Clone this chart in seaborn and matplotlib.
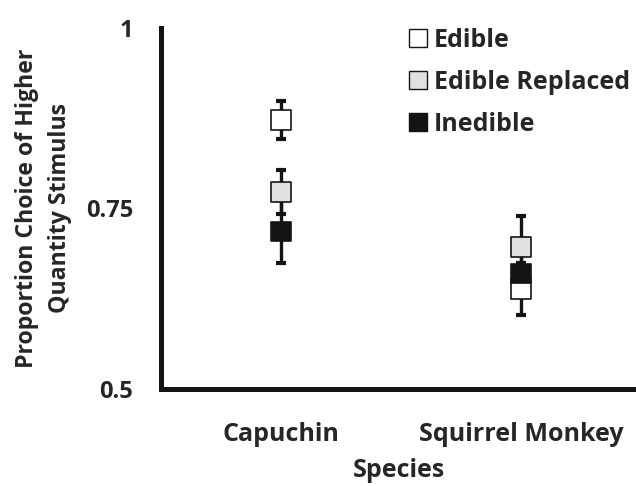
import numpy as np
import pandas as pd
import seaborn as sns
import matplotlib.pyplot as plt
from matplotlib.lines import Line2D

# data
species = ['Capuchin', 'Squirrel Monkey']
conditions = ['Edible', 'Edible Replaced', 'Inedible']
edible = [0.873, 0.638]
edible_err = [0.026, 0.036]
replaced = [0.773, 0.697]
replaced_err = [0.031, 0.042]
inedible = [0.718, 0.660]
inedible_err = [0.044, 0.030]

colors = ['#ffffff', '#e0e0e0', '#141414']

df = pd.DataFrame({
    'Species': species * 3,
    'Condition': np.repeat(conditions, 2),
    'Proportion': edible + replaced + inedible,
    'err': edible_err + replaced_err + inedible_err,
})
df['x'] = df['Species'].map({s: i for i, s in enumerate(species)})

sns.set_style('white')
plt.rcParams['font.family'] = ['Open Sans', 'DejaVu Sans']
plt.rcParams['font.weight'] = 'bold'

fig = plt.figure(figsize=(6.36, 4.86), dpi=100)
ax = fig.add_axes([0.253, 0.2, 0.747, 0.742])

# error bars behind the markers
ax.errorbar(df['x'], df['Proportion'], yerr=df['err'], fmt='none',
            ecolor='#141414', elinewidth=2.4, capsize=3.8, capthick=3, zorder=2)

sns.scatterplot(data=df, x='x', y='Proportion', hue='Condition',
                hue_order=conditions, palette=colors, marker='s', s=200,
                edgecolor='#141414', linewidth=1.2, legend=False, ax=ax, zorder=3)

ax.set_xlim(-0.5, 1.48)
ax.set_ylim(0.5, 1.0)
ax.set_xticks([0, 1])
ax.set_xticklabels(species)
ax.set_yticks([0.5, 0.75, 1.0])
ax.set_yticklabels(['0.5', '0.75', '1'])
ax.tick_params(axis='x', length=0, labelsize=18, pad=24)
ax.tick_params(axis='y', length=0, labelsize=17, pad=20)
for t in ax.get_xticklabels() + ax.get_yticklabels():
    t.set_fontweight('bold')

ax.set_xlabel('Species', fontsize=18, fontweight='bold', labelpad=8)
ax.set_ylabel('Proportion Choice of Higher\nQuantity Stimulus', fontsize=16.7,
              fontweight='bold', labelpad=10, linespacing=1.5)

sns.despine(ax=ax)
for side in ['left', 'bottom']:
    ax.spines[side].set_linewidth(3.6)
    ax.spines[side].set_color('#141414')

handles = [Line2D([], [], marker='s', linestyle='none', markersize=13.5,
                  markerfacecolor=c, markeredgecolor='#141414', markeredgewidth=1.0)
           for c in colors]
leg = ax.legend(handles, conditions, loc='upper left', bbox_to_anchor=(0.495, 1.035),
                frameon=False, handlelength=0.75, handletextpad=0.25,
                labelspacing=0.68, borderpad=0, prop={'size': 18, 'weight': 'bold'})

fig.savefig('out.png', dpi=100)
